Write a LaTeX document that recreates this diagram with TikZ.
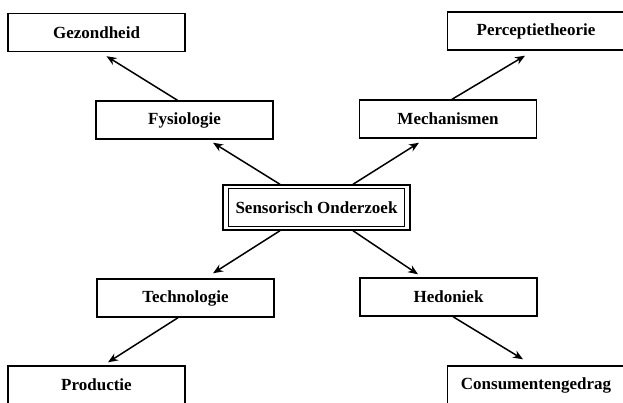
\documentclass[tikz,border=0pt]{standalone}
\usepackage{fontspec}
\setmainfont{Liberation Serif}
\usetikzlibrary{calc,arrows.meta}
\begin{document}
\begin{tikzpicture}[x=1pt,y=-1pt,
  box/.style={draw,line width=1.4pt,minimum width=177pt,minimum height=38pt,inner sep=0pt,
    font=\fontsize{17}{20}\selectfont\bfseries},
  conn/.style={line width=1.5pt,-{Stealth[length=10pt,width=8pt]}}]
\useasboundingbox (0,0) rectangle (623,402);
\fill[white] (0,0) rectangle (623,402);
\clip (0,0) rectangle (623,402);
\node[box] (gez) at (96.5,32.5) {Gezondheid};
\node[box] (fys) at (184.5,120) {Fysiologie};
\node[box] (perc) at (536,31) {Perceptietheorie};
\node[box] (mech) at (448,119) {Mechanismen};
\node[box,minimum width=187pt,minimum height=45pt] (sens) at (316.5,207.5) {Sensorisch Onderzoek};
\draw[line width=1.1pt] ($(sens.south west)+(6,-4)$) rectangle ($(sens.north east)+(-6,4)$);
\node[box] (tech) at (185.5,298) {Technologie};
\node[box] (hed) at (448.5,297) {Hedoniek};
\node[box] (prod) at (96.5,385) {Productie};
\node[box] (cons) at (536,385) {Consumentengedrag};
\draw[conn] ($(fys.north)+(-7,0)$) -- ($(gez.south)+(10,4)$);
\draw[conn] ($(sens.north)+(-36.5,0)$) -- ($(fys.south)+(28.5,3)$);
\draw[conn] ($(sens.north)+(36.5,0)$) -- ($(mech.south)+(-29,4)$);
\draw[conn] ($(mech.north)+(4,0)$) -- ($(perc.south)+(-11,5)$);
\draw[conn] ($(sens.south)+(-36.5,0)$) -- ($(tech.north)+(27.5,-5)$);
\draw[conn] ($(tech.south)+(-7.5,0)$) -- ($(prod.north)+(11.5,-3)$);
\draw[conn] ($(sens.south)+(36.5,0)$) -- ($(hed.north)+(-30.5,-3)$);
\draw[conn] ($(hed.south)+(4.5,0)$) -- ($(cons.north)+(-13,-6)$);
\end{tikzpicture}
\end{document}
